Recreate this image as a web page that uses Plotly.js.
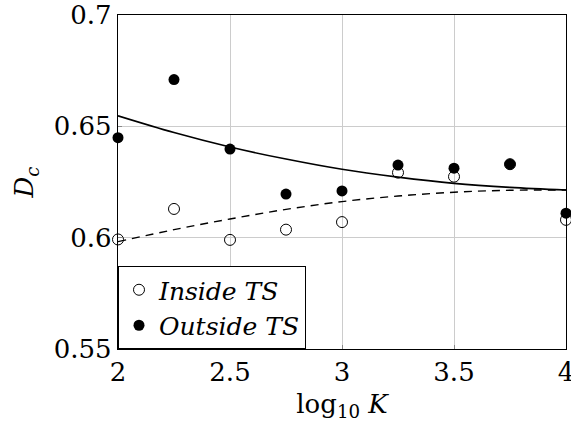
<!DOCTYPE html>
<html><head><meta charset="utf-8">
<script src="https://cdn.plot.ly/plotly-3.0.1.min.js"></script>
<style>body{margin:0;padding:0;background:#fff}#chart{width:571px;height:439px}</style>
</head><body><div id="chart"></div>
<script>
const logK = [2, 2.25, 2.5, 2.75, 3, 3.25, 3.5, 3.75, 4];
const insideTS = [0.5992, 0.6129, 0.599, 0.6036, 0.607, 0.6292, 0.6274, 0.633, 0.608];
const outsideTS = [0.6449, 0.671, 0.6398, 0.6196, 0.621, 0.6326, 0.6312, 0.633, 0.611];
const fitOutside = [0.6547, 0.6472, 0.6407, 0.6353, 0.6307, 0.6272, 0.6244, 0.6226, 0.6214];
const fitInside = [0.5982, 0.6036, 0.6084, 0.6127, 0.6162, 0.6187, 0.6204, 0.6213, 0.6214];
const xTicks = [2, 2.5, 3, 3.5, 4];
const xTickText = ['2', '2.5', '3', '3.5', '4'];
const yTicks = [0.55, 0.6, 0.65, 0.7];
const yTickText = ['0.55', '0.6', '0.65', '0.7'];

const serif = 'DejaVu Serif';
const traces = [
  {x: logK, y: fitOutside, mode: 'lines', line: {color: 'black', width: 1.6, shape: 'spline'}, showlegend: false, hoverinfo: 'skip'},
  {x: logK, y: fitInside, mode: 'lines', line: {color: 'black', width: 1.4, dash: '8px,6px', shape: 'spline'}, showlegend: false, hoverinfo: 'skip'},
  {x: logK, y: insideTS, mode: 'markers', name: '<i>Inside TS</i>', cliponaxis: false,
   marker: {symbol: 'circle-open', size: 11, color: 'black', line: {width: 1, color: 'black'}}},
  {x: logK, y: outsideTS, mode: 'markers', name: '<i>Outside TS</i>', cliponaxis: false,
   marker: {symbol: 'circle', size: 11, color: 'black'}}
];
const axisCommon = {
  showline: true, mirror: true, linecolor: 'black', linewidth: 1.2,
  showgrid: true, gridcolor: '#cccccc', gridwidth: 1, zeroline: false,
  ticks: 'inside', ticklen: 4, tickcolor: '#888', ticklabeloverflow: 'allow',
  tickfont: {family: serif, size: 26, color: 'black'}
};
const layout = {
  width: 571, height: 439,
  font: {family: serif},
  margin: {l: 118, r: 5, t: 15, b: 90},
  paper_bgcolor: 'white', plot_bgcolor: 'white',
  showlegend: true,
  legend: {x: 0, y: 0, xanchor: 'left', yanchor: 'bottom', bgcolor: 'white', bordercolor: 'black', borderwidth: 1,
           font: {family: serif, size: 25, color: 'black'}, itemwidth: 30, tracegroupgap: 0},
  xaxis: Object.assign({}, axisCommon, {range: [2, 4], tickvals: xTicks, ticktext: xTickText,
    title: {text: 'log<sub>10</sub> <i>K</i>', font: {family: serif, size: 26, color: 'black'}, standoff: 8}}),
  yaxis: Object.assign({}, axisCommon, {range: [0.55, 0.7], tickvals: yTicks, ticktext: yTickText,
    title: {text: '<i>D<sub>c</sub></i>', font: {family: serif, size: 26, color: 'black'}, standoff: 12}})
};
Plotly.newPlot('chart', traces, layout, {displayModeBar: false, staticPlot: true});
</script></body></html>
